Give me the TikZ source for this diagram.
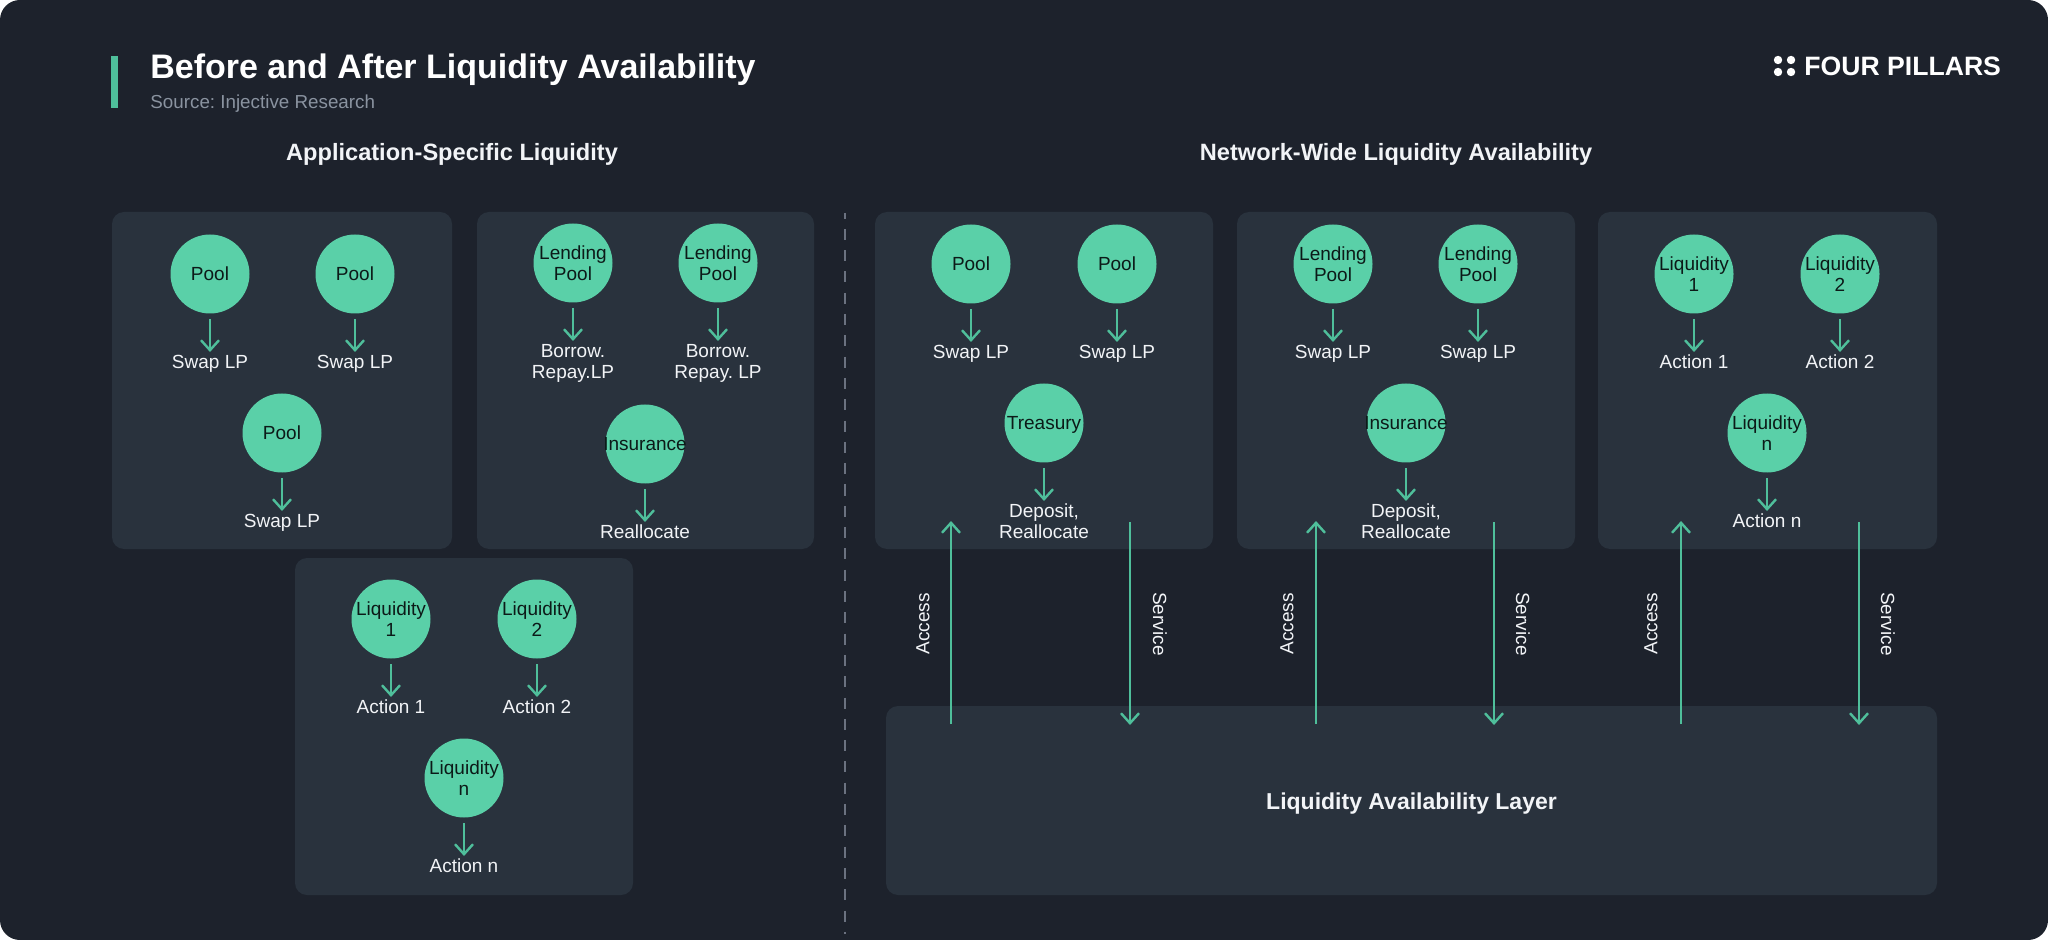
\documentclass[tikz,border=0pt]{standalone}
\usepackage{fontspec}
\setmainfont{Liberation Sans}
\usetikzlibrary{arrows.meta}
\definecolor{pagebg}{HTML}{1D222C}
\definecolor{cardbg}{HTML}{29323D}
\definecolor{mint}{HTML}{5AD0A8}
\definecolor{flowgreen}{HTML}{4FBF9B}
\definecolor{inkdark}{HTML}{0C1A18}
\definecolor{softwhite}{HTML}{F2F4F7}
\definecolor{graytext}{HTML}{8A93A0}
\definecolor{dashgray}{HTML}{6B7280}
\newcommand{\nodepth}[1]{\raisebox{0pt}[\height][0pt]{#1}}
\tikzset{
  card/.style={fill=cardbg,rounded corners=6},
  pillar/.style={circle,fill=mint,minimum size=39.5pt,inner sep=0,outer sep=2.75pt,align=center,
    text=inkdark,font=\fontsize{9.5}{10.5}\selectfont},
  note/.style={anchor=north,inner sep=0,outer sep=1.5pt,align=center,text=softwhite,
    font=\fontsize{9.5}{10.5}\selectfont},
  flow/.style={draw=flowgreen,line width=1.4pt,-{Straight Barb[length=5pt,width=9pt,line width=1.2pt]}},
  side/.style={text=softwhite,rotate=90,font=\fontsize{9.5}{11}\selectfont},
  heading/.style={text=softwhite,font=\fontsize{11.8}{14}\selectfont\bfseries}
}
\begin{document}
\frenchspacing
\begin{tikzpicture}[x=0.5pt,y=-0.5pt,line join=round]
\useasboundingbox (0,0) rectangle (2048,940);
\fill[white] (0,0) rectangle (2048,940);
\fill[pagebg,rounded corners=10] (0,0) rectangle (2048,940);
% header
\fill[flowgreen] (111,56) rectangle (118,108);
\node[anchor=west,inner sep=0,text=white,font=\fontsize{17}{20}\selectfont\bfseries] (title) at (150,70) {Before and After Liquidity Availability};
\node[anchor=west,inner sep=0,text=graytext,font=\fontsize{9.4}{11}\selectfont] (source) at (150,103.5) {Source: Injective Research};
\foreach \x in {1778,1791}
  \foreach \y in {60,72}
    \fill[white] (\x,\y) circle (4.2);
\node[anchor=west,inner sep=0,text=white,font=\fontsize{13.3}{16}\selectfont\bfseries] (brand) at (1804,66) {FOUR PILLARS};
\node[heading] (before) at (452,154) {Application-Specific Liquidity};
\node[heading] (after) at (1396,154) {Network-Wide Liquidity Availability};
\draw[dashgray,line width=1.2pt,dash pattern=on 5.5pt off 5.15pt,dash phase=2.7pt] (845,213)--(845,934);
% cards
\foreach \a/\b/\c/\d in {112/212/452/549,477/212/814/549,295/558/633/895,875/212/1213/549,1237/212/1575/549,1598/212/1937/549}
  \fill[card] (\a,\b) rectangle (\c,\d);
\node[card,minimum width=525.5pt,minimum height=94.5pt,inner sep=0,text=softwhite,font=\fontsize{11.5}{14}\selectfont\bfseries] (layer) at (1411.5,800.5) {\raisebox{-1.5pt}[\height][\depth]{Liquidity Availability Layer}};
% circles and what comes out of them
\foreach \n/\x/\y/\t/\l in {
  a1/210/274/Pool/Swap LP,a2/355/274/Pool/Swap LP,a3/282/433/Pool/Swap LP,
  b1/573/263/{Lending\\Pool}/{Borrow.\\Repay.LP},b2/718/263/{Lending\\Pool}/{Borrow.\\Repay. LP},b3/645/444/\makebox[0pt]{Insurance}/Reallocate,
  c1/391/619/{Liquidity\\1}/Action 1,c2/537/619/{Liquidity\\2}/Action 2,c3/464/778/{Liquidity\\n}/Action n,
  d1/971/264/Pool/Swap LP,d2/1117/264/Pool/Swap LP,d3/1044/423/\nodepth{Treasury}/{Deposit,\\Reallocate},
  e1/1333/264/{Lending\\Pool}/Swap LP,e2/1478/264/{Lending\\Pool}/Swap LP,e3/1406/423/\makebox[0pt]{Insurance}/{Deposit,\\Reallocate},
  f1/1694/274/{Liquidity\\1}/Action 1,f2/1840/274/{Liquidity\\2}/Action 2,f3/1767/433/{Liquidity\\n}/Action n}
{
  \node[pillar] (\n) at (\x,\y) {\t};
  \node[note] (\n t) at (\x,\y+78) {\l};
  \draw[flow] (\n)--(\n t);
}
% access and service
\foreach \p/\u/\v/\ux/\vx in {1/951/1130/923/1160,2/1316/1494/1287/1523,3/1681/1859/1651/1888}
{
  \coordinate (top\p) at (\u,521);
  \coordinate (low\p) at (\u,724);
  \coordinate (sst\p) at (\v,522);
  \coordinate (sen\p) at (\v,725);
  \draw[flow] (low\p)--(top\p);
  \draw[flow] (sst\p)--(sen\p);
  \node[side] (acc\p) at (\ux,624) {Access};
  \node[side,rotate=180] (srv\p) at (\vx,624) {Service};
}
\end{tikzpicture}
\end{document}
